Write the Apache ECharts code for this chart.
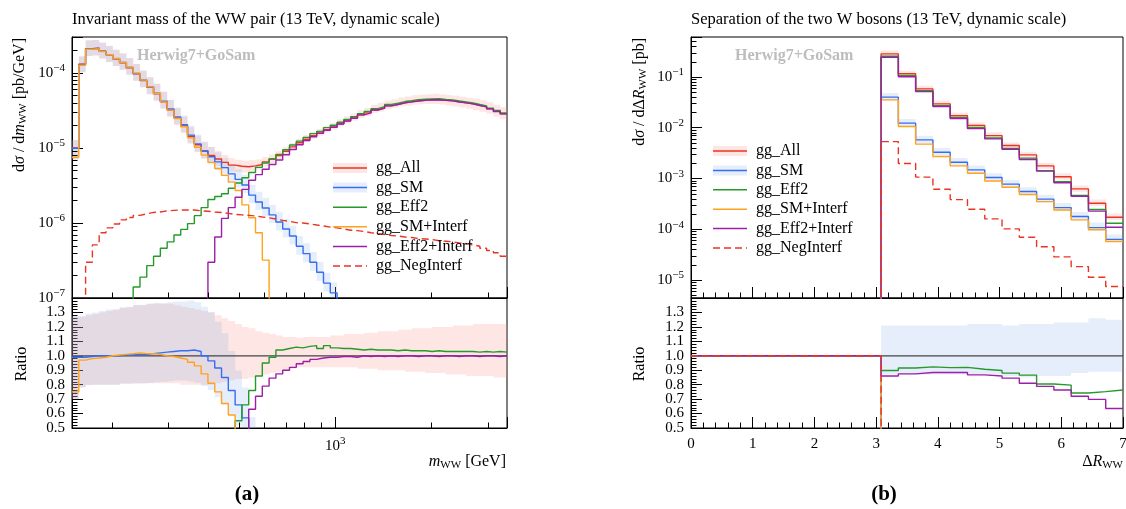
<!DOCTYPE html>
<html>
<head>
<meta charset="utf-8">
<script src="https://cdn.jsdelivr.net/npm/echarts/dist/echarts.min.js"></script>
<style>
  html, body { margin: 0; padding: 0; background: #fff; }
  #chart { width: 1126px; height: 509px; }
</style>
</head>
<body>
<div id="chart"></div>
<script>
// ---------------- m_WW histograms (log-uniform bins) ----------------
const massRange = [150, 3450];   // GeV
const massBinCount = 64;

const allL = [
  1.0e-5, 1.3e-4, 2.1e-4, 2.12e-4, 1.94e-4, 1.74e-4, 1.54e-4, 1.36e-4, 1.17e-4, 9.7e-5,
  7.9e-5, 6.4e-5, 5.25e-5, 4.1e-5, 3.2e-5, 2.5e-5, 1.96e-5, 1.42e-5, 1.1e-5, 9.1e-6,
  7.9e-6, 7.1e-6, 6.4e-6, 5.9e-6, 5.7e-6, 5.6e-6, 5.75e-6, 6.0e-6, 6.5e-6, 7.1e-6,
  7.9e-6, 9.0e-6, 1.03e-5, 1.17e-5, 1.3e-5, 1.45e-5, 1.58e-5, 1.74e-5, 1.9e-5, 2.09e-5,
  2.29e-5, 2.5e-5, 2.75e-5, 2.93e-5, 3.2e-5, 3.4e-5, 3.63e-5, 3.8e-5, 3.98e-5, 4.1e-5,
  4.23e-5, 4.3e-5, 4.37e-5, 4.37e-5, 4.3e-5, 4.23e-5, 4.1e-5, 3.98e-5, 3.86e-5, 3.69e-5,
  3.52e-5, 3.31e-5, 3.07e-5, 2.84e-5
];
const smL = [
  9.9e-6, 1.29e-4, 2.09e-4, 2.12e-4, 1.94e-4, 1.74e-4, 1.54e-4, 1.37e-4, 1.18e-4, 9.8e-5,
  8.0e-5, 6.5e-5, 5.35e-5, 4.2e-5, 3.3e-5, 2.59e-5, 2.03e-5, 1.48e-5, 1.13e-5, 9.1e-6,
  7.6e-6, 6.5e-6, 5.45e-6, 4.5e-6, 3.8e-6, 3.2e-6, 2.35e-6, 1.9e-6, 1.58e-6, 1.28e-6,
  1.03e-6, 8.3e-7, 6.7e-7, 4.9e-7, 3.9e-7, 3.0e-7, 2.2e-7, 1.58e-7, 1.17e-7, 6e-8,
  0, 0, 0, 0, 0, 0, 0, 0, 0, 0,
  0, 0, 0, 0, 0, 0, 0, 0, 0, 0,
  0, 0, 0, 0
];
const eff2L = [
  0, 0, 0, 0, 0, 0, 0, 0, 0, 1.4e-7,
  1.9e-7, 2.7e-7, 3.6e-7, 4.6e-7, 5.6e-7, 6.9e-7, 8.2e-7, 9.8e-7, 1.25e-6, 1.6e-6,
  2.05e-6, 2.25e-6, 2.45e-6, 2.9e-6, 3.4e-6, 4.0e-6, 4.7e-6, 5.5e-6, 6.3e-6, 7.1e-6,
  8.2e-6, 9.45e-6, 1.09e-5, 1.23e-5, 1.38e-5, 1.55e-5, 1.66e-5, 1.86e-5, 2.0e-5, 2.19e-5,
  2.4e-5, 2.61e-5, 2.86e-5, 3.06e-5, 3.33e-5, 3.54e-5, 3.78e-5, 3.93e-5, 4.14e-5, 4.24e-5,
  4.38e-5, 4.45e-5, 4.5e-5, 4.52e-5, 4.43e-5, 4.36e-5, 4.22e-5, 4.1e-5, 3.98e-5, 3.78e-5,
  3.63e-5, 3.39e-5, 3.16e-5, 2.91e-5
];
const smIntL = [
  7.5e-6, 1.26e-4, 2.06e-4, 2.09e-4, 1.92e-4, 1.74e-4, 1.55e-4, 1.37e-4, 1.19e-4, 9.9e-5,
  8.0e-5, 6.5e-5, 5.3e-5, 4.1e-5, 3.18e-5, 2.46e-5, 1.91e-5, 1.36e-5, 1.02e-5, 8.0e-6,
  6.4e-6, 5.3e-6, 4.3e-6, 3.5e-6, 2.7e-6, 1.74e-6, 1.17e-6, 7.4e-7, 3.2e-7, 9e-8,
  0, 0, 0, 0, 0, 0, 0, 0, 0, 0,
  0, 0, 0, 0, 0, 0, 0, 0, 0, 0,
  0, 0, 0, 0, 0, 0, 0, 0, 0, 0,
  0, 0, 0, 0
];
const eff2IntL = [
  0, 0, 0, 0, 0, 0, 0, 0, 0, 0,
  0, 0, 0, 0, 0, 0, 0, 0, 0, 5e-8,
  3.0e-7, 6.5e-7, 1.15e-6, 1.6e-6, 2.2e-6, 2.8e-6, 3.7e-6, 4.4e-6, 5.2e-6, 6.0e-6,
  6.9e-6, 8.1e-6, 9.5e-6, 1.1e-5, 1.25e-5, 1.41e-5, 1.56e-5, 1.72e-5, 1.88e-5, 2.08e-5,
  2.28e-5, 2.48e-5, 2.75e-5, 2.92e-5, 3.2e-5, 3.38e-5, 3.63e-5, 3.78e-5, 3.98e-5, 4.1e-5,
  4.21e-5, 4.3e-5, 4.37e-5, 4.35e-5, 4.3e-5, 4.23e-5, 4.08e-5, 3.98e-5, 3.86e-5, 3.67e-5,
  3.52e-5, 3.31e-5, 3.05e-5, 2.84e-5
];
const negL = [
  0, 5e-8, 3.0e-7, 5.1e-7, 7.4e-7, 8.6e-7, 9.7e-7, 1.1e-6, 1.18e-6, 1.26e-6,
  1.32e-6, 1.38e-6, 1.4e-6, 1.45e-6, 1.47e-6, 1.49e-6, 1.49e-6, 1.49e-6, 1.45e-6, 1.43e-6,
  1.4e-6, 1.38e-6, 1.34e-6, 1.3e-6, 1.28e-6, 1.26e-6, 1.24e-6, 1.2e-6, 1.17e-6, 1.13e-6,
  1.08e-6, 1.05e-6, 1.01e-6, 1.0e-6, 9.7e-7, 9.4e-7, 9.1e-7, 8.8e-7, 8.6e-7, 8.3e-7,
  8.0e-7, 7.9e-7, 7.7e-7, 7.4e-7, 7.2e-7, 7.0e-7, 6.8e-7, 6.7e-7, 6.5e-7, 6.4e-7,
  6.2e-7, 6.1e-7, 6.0e-7, 5.8e-7, 5.7e-7, 5.6e-7, 5.4e-7, 5.3e-7, 5.1e-7, 4.9e-7,
  4.6e-7, 4.3e-7, 4.0e-7, 3.6e-7
];

// ratios to gg_All
const smRatioL = [
  0.99, 0.99, 0.995, 1.0, 1.0, 1.0, 1.0, 1.005, 1.005, 1.01,
  1.01, 1.015, 1.02, 1.025, 1.03, 1.035, 1.035, 1.04, 1.03, 1.0,
  0.965, 0.915, 0.85, 0.76, 0.66, 0.57, 0.42, 0.32, 0.24, 0.18,
  0.13, 0.09, 0.065, 0.042, 0.03, 0.021, 0.014, 0.009, 0.006, 0.003,
  0, 0, 0, 0, 0, 0, 0, 0, 0, 0,
  0, 0, 0, 0, 0, 0, 0, 0, 0, 0,
  0, 0, 0, 0
];
const eff2RatioL = [
  0, 0, 0, 0, 0, 0, 0, 0, 0, 0.0014,
  0.0024, 0.0042, 0.0069, 0.011, 0.0175, 0.028, 0.042, 0.069, 0.11, 0.18,
  0.26, 0.32, 0.38, 0.46, 0.55, 0.66, 0.76, 0.86, 0.95, 0.99,
  1.04, 1.05, 1.06, 1.055, 1.065, 1.07, 1.05, 1.07, 1.055, 1.05,
  1.05, 1.045, 1.04, 1.045, 1.04, 1.04, 1.04, 1.035, 1.04, 1.035,
  1.035, 1.035, 1.03, 1.035, 1.03, 1.03, 1.03, 1.03, 1.03, 1.025,
  1.03, 1.025, 1.03, 1.025
];
const smIntRatioL = [
  0.75, 0.97, 0.98, 0.985, 0.99, 1.0, 1.005, 1.01, 1.015, 1.02,
  1.015, 1.015, 1.01, 1.0, 0.995, 0.985, 0.975, 0.955, 0.93, 0.875,
  0.81, 0.75, 0.67, 0.59, 0.47, 0.31, 0.2, 0.12, 0.05, 0.013,
  0, 0, 0, 0, 0, 0, 0, 0, 0, 0,
  0, 0, 0, 0, 0, 0, 0, 0, 0, 0,
  0, 0, 0, 0, 0, 0, 0, 0, 0, 0,
  0, 0, 0, 0
];
const eff2IntRatioL = [
  0, 0, 0, 0, 0, 0, 0, 0, 0, 0,
  0, 0, 0, 0, 0, 0, 0, 0, 0, 0.005,
  0.04, 0.09, 0.18, 0.27, 0.37, 0.47, 0.63, 0.72, 0.79, 0.845,
  0.875, 0.90, 0.92, 0.945, 0.96, 0.975, 0.985, 0.99, 0.99, 0.995,
  0.995, 0.99, 1.0, 0.995, 1.0, 0.995, 1.0, 0.995, 1.0, 1.0,
  0.995, 1.0, 1.0, 0.995, 1.0, 1.0, 0.995, 1.0, 1.0, 0.995,
  1.0, 1.0, 0.995, 1.0
];

// relative uncertainty bands (gg_All, gg_SM)
const allBandLoL = [
  0.70, 0.78, 0.80, 0.80, 0.80, 0.80, 0.80, 0.81, 0.81, 0.81,
  0.81, 0.81, 0.81, 0.81, 0.81, 0.81, 0.80, 0.80, 0.80, 0.80,
  0.80, 0.81, 0.82, 0.83, 0.84, 0.84, 0.85, 0.86, 0.87, 0.88,
  0.89, 0.90, 0.91, 0.92, 0.92, 0.92, 0.92, 0.92, 0.92, 0.92,
  0.92, 0.92, 0.91, 0.91, 0.91, 0.90, 0.90, 0.90, 0.90, 0.89,
  0.89, 0.89, 0.88, 0.88, 0.88, 0.87, 0.87, 0.87, 0.86, 0.86,
  0.86, 0.86, 0.85, 0.85
];
const allBandHiL = [
  1.27, 1.27, 1.28, 1.29, 1.30, 1.31, 1.32, 1.33, 1.34, 1.35,
  1.35, 1.36, 1.36, 1.36, 1.36, 1.35, 1.34, 1.33, 1.32, 1.31,
  1.30, 1.28, 1.26, 1.24, 1.22, 1.20, 1.19, 1.17, 1.16, 1.15,
  1.14, 1.13, 1.13, 1.125, 1.13, 1.13, 1.13, 1.13, 1.14, 1.14,
  1.15, 1.15, 1.15, 1.16, 1.16, 1.17, 1.17, 1.17, 1.18, 1.18,
  1.19, 1.19, 1.19, 1.20, 1.20, 1.20, 1.21, 1.21, 1.21, 1.22,
  1.22, 1.22, 1.22, 1.22
];
const smBandLoL = [
  0.71, 0.79, 0.80, 0.80, 0.80, 0.80, 0.80, 0.80, 0.80, 0.80,
  0.80, 0.80, 0.80, 0.80, 0.80, 0.80, 0.80, 0.79, 0.79, 0.79,
  0.79, 0.78, 0.78, 0.78, 0.78, 0.78, 0.78, 0.78, 0.78, 0.78,
  0.77, 0.77, 0.77, 0.77, 0.77, 0.77, 0.77, 0.77, 0.77, 0.77,
  0.77, 0.77, 0.77, 0.77, 0.77, 0.77, 0.77, 0.77, 0.77, 0.77,
  0.77, 0.77, 0.77, 0.77, 0.77, 0.77, 0.77, 0.77, 0.77, 0.77,
  0.77, 0.77, 0.77, 0.77
];
const smBandHiL = [
  1.29, 1.29, 1.30, 1.30, 1.31, 1.32, 1.32, 1.33, 1.33, 1.34,
  1.34, 1.34, 1.34, 1.33, 1.33, 1.33, 1.33, 1.33, 1.33, 1.34,
  1.35, 1.35, 1.36, 1.36, 1.36, 1.37, 1.37, 1.37, 1.37, 1.37,
  1.37, 1.37, 1.37, 1.37, 1.37, 1.37, 1.37, 1.37, 1.37, 1.37,
  1.37, 1.37, 1.37, 1.37, 1.37, 1.37, 1.37, 1.37, 1.37, 1.37,
  1.37, 1.37, 1.37, 1.37, 1.37, 1.37, 1.37, 1.37, 1.37, 1.37,
  1.37, 1.37, 1.37, 1.37
];

// ---------------- Delta R_WW histograms ----------------
const drEdges = [0, 0.28, 0.56, 0.84, 1.12, 1.4, 1.68, 1.96, 2.24, 2.52, 2.8, 3.08, 3.36,
  3.64, 3.92, 4.2, 4.48, 4.76, 5.04, 5.32, 5.6, 5.88, 6.16, 6.44, 6.72, 7.0];

const allR = [0, 0, 0, 0, 0, 0, 0, 0, 0, 0, 0,
  0.284, 0.115, 0.058, 0.0294, 0.0171, 0.011, 0.00697, 0.00443, 0.0029, 0.00176, 0.00108, 6.2e-4, 3.24e-4, 1.72e-4];
const smR = [0, 0, 0, 0, 0, 0, 0, 0, 0, 0, 0,
  0.0398, 0.01225, 0.00574, 0.00328, 0.00208, 0.00147, 0.00104, 7.7e-4, 5.5e-4, 3.9e-4, 2.66e-4, 1.77e-4, 1.07e-4, 6.3e-5];
const eff2R = [0, 0, 0, 0, 0, 0, 0, 0, 0, 0, 0,
  0.255, 0.105, 0.0535, 0.027, 0.0157, 0.00998, 0.00626, 0.0039, 0.00251, 0.00142, 8.6e-4, 4.6e-4, 2.44e-4, 1.31e-4];
const smIntR = [0, 0, 0, 0, 0, 0, 0, 0, 0, 0, 0,
  0.0352, 0.0105, 0.00472, 0.00269, 0.00176, 0.00126, 8.9e-4, 6.7e-4, 4.8e-4, 3.49e-4, 2.39e-4, 1.52e-4, 9.7e-5, 5.7e-5];
const eff2IntR = [0, 0, 0, 0, 0, 0, 0, 0, 0, 0, 0,
  0.244, 0.1006, 0.0513, 0.026, 0.0151, 0.00955, 0.006, 0.00374, 0.00235, 0.00139, 8.2e-4, 4.46e-4, 2.26e-4, 1.09e-4];
const negR = [0, 0, 0, 0, 0, 0, 0, 0, 0, 0, 0,
  5.3e-3, 1.96e-3, 1.06e-3, 6.1e-4, 3.82e-4, 2.47e-4, 1.59e-4, 1.01e-4, 6.9e-5, 4.5e-5, 2.84e-5, 1.83e-5, 1.13e-5, 7.4e-6];

const smRatioR = [1, 1, 1, 1, 1, 1, 1, 1, 1, 1, 1,
  0.14, 0.107, 0.099, 0.112, 0.122, 0.134, 0.149, 0.174, 0.19, 0.22, 0.246, 0.285, 0.33, 0.37];
const eff2RatioR = [1, 1, 1, 1, 1, 1, 1, 1, 1, 1, 1,
  0.898, 0.915, 0.923, 0.918, 0.92, 0.907, 0.898, 0.88, 0.866, 0.805, 0.797, 0.742, 0.752, 0.763];
const smIntRatioR = [1, 1, 1, 1, 1, 1, 1, 1, 1, 1, 1,
  0.124, 0.091, 0.081, 0.091, 0.103, 0.115, 0.128, 0.151, 0.166, 0.198, 0.221, 0.245, 0.30, 0.33];
const eff2IntRatioR = [1, 1, 1, 1, 1, 1, 1, 1, 1, 1, 1,
  0.86, 0.875, 0.884, 0.884, 0.884, 0.868, 0.86, 0.845, 0.81, 0.788, 0.763, 0.72, 0.698, 0.635];
const negRatioR = [1, 1, 1, 1, 1, 1, 1, 1, 1, 1, 1,
  0.019, 0.017, 0.018, 0.021, 0.022, 0.022, 0.023, 0.023, 0.024, 0.026, 0.026, 0.03, 0.035, 0.043];

const allBandLoR = [0, 0, 0, 0, 0, 0, 0, 0, 0, 0, 0,
  0.88, 0.88, 0.88, 0.88, 0.88, 0.88, 0.88, 0.88, 0.88, 0.88, 0.88, 0.88, 0.88, 0.88];
const allBandHiR = [0, 0, 0, 0, 0, 0, 0, 0, 0, 0, 0,
  1.16, 1.15, 1.15, 1.16, 1.15, 1.15, 1.16, 1.15, 1.16, 1.16, 1.17, 1.17, 1.18, 1.18];
const smBandLoR = [0, 0, 0, 0, 0, 0, 0, 0, 0, 0, 0,
  0.87, 0.87, 0.87, 0.87, 0.87, 0.87, 0.87, 0.86, 0.85, 0.86, 0.86, 0.88, 0.89, 0.89];
const smBandHiR = [0, 0, 0, 0, 0, 0, 0, 0, 0, 0, 0,
  1.21, 1.21, 1.21, 1.21, 1.21, 1.22, 1.22, 1.21, 1.22, 1.22, 1.23, 1.23, 1.26, 1.25];

// axis ranges and ratio tick labels
const massYRange = [1e-7, 3e-4];
const drYRange = [4.4e-6, 0.61];
const ratioRange = [0.5, 1.4];
const ratioTickLabels = ['0.5', '0.6', '0.7', '0.8', '0.9', '1.0', '1.1', '1.2', '1.3'];
const drRange = [0, 7];
const legendNames = ['gg_All', 'gg_SM', 'gg_Eff2', 'gg_SM+Interf', 'gg_Eff2+Interf', 'gg_NegInterf'];

// ---------------- styling ----------------
const FONT = '"Liberation Serif", "DejaVu Serif", serif';
const C = {
  all: '#ea3323', sm: '#356ef0', eff2: '#259a2a', smInt: '#ffa21c', eff2Int: '#9c1fa8', neg: '#ea3323'
};
const PINK = 'rgba(248, 140, 128, 0.22)';
const BLUE = 'rgba(130, 170, 235, 0.2)';
const LW = 1.4;

// log-uniform bin edges for the mass histogram
const massEdges = [];
for (let i = 0; i <= massBinCount; i++) {
  massEdges.push(massRange[0] * Math.pow(massRange[1] / massRange[0], i / massBinCount));
}

const mul = (a, b) => a.map((v, i) => v * b[i]);

function stepPoints(edges, vals, floor) {
  const pts = [];
  for (let i = 0; i < vals.length; i++) {
    const v = vals[i] > 0 ? vals[i] : floor;
    pts.push([edges[i], v], [edges[i + 1], v]);
  }
  return pts;
}

function histSeries(name, xi, yi, edges, vals, color, z, dashed, floor) {
  return {
    name, type: 'line', xAxisIndex: xi, yAxisIndex: yi, z, silent: true,
    symbol: 'none', showSymbol: false, clip: true, animation: false,
    data: stepPoints(edges, vals, floor),
    lineStyle: { color, width: LW, type: dashed ? [7, 4] : 'solid' }
  };
}

// filled step band drawn through the axes' own coordinate mapping
function bandSeries(xi, yi, edges, lo, hi, fill, z, yRef) {
  return {
    type: 'custom', xAxisIndex: xi, yAxisIndex: yi, silent: true, z, animation: false,
    data: [[edges[0], yRef]],
    renderItem(params, api) {
      const cs = params.coordSys;
      const cx = x => Math.min(cs.x + cs.width, Math.max(cs.x, x));
      const cy = y => Math.min(cs.y + cs.height, Math.max(cs.y, y));
      const pt = (x, y) => { const p = api.coord([x, y]); return [cx(p[0]), cy(p[1])]; };
      const children = [];
      let i = 0;
      while (i < lo.length) {
        if (!(lo[i] > 0 && hi[i] > 0)) { i++; continue; }
        let j = i;
        while (j < lo.length && lo[j] > 0 && hi[j] > 0) j++;
        const pts = [];
        for (let k = i; k < j; k++) pts.push(pt(edges[k], hi[k]), pt(edges[k + 1], hi[k]));
        for (let k = j - 1; k >= i; k--) pts.push(pt(edges[k + 1], lo[k]), pt(edges[k], lo[k]));
        children.push({ type: 'polygon', shape: { points: pts }, style: { fill } });
        i = j;
      }
      return { type: 'group', children };
    }
  };
}

// minor ticks of logarithmic axes (2..9 x 10^k)
function logMinor(lo, hi) {
  const out = [];
  for (let k = Math.floor(Math.log10(lo)); k <= Math.ceil(Math.log10(hi)); k++) {
    for (let j = 2; j <= 9; j++) {
      const v = j * Math.pow(10, k);
      if (v > lo * 1.0001 && v < hi * 0.9999) out.push(v);
    }
  }
  return out;
}
function tickSeries(xi, yi, dim, values, len, ref) {
  return {
    type: 'custom', xAxisIndex: xi, yAxisIndex: yi, silent: true, z: 30, animation: false,
    data: [dim === 'x' ? [values[0], ref] : [ref, values[0]]],
    renderItem(params, api) {
      const cs = params.coordSys;
      const children = values.map(v => {
        const p = api.coord(dim === 'x' ? [v, ref] : [ref, v]);
        if (dim === 'x') {
          const x = Math.round(p[0]) + 0.5;
          return { type: 'line', shape: { x1: x, y1: cs.y + cs.height, x2: x, y2: cs.y + cs.height - len },
            style: { stroke: '#000', lineWidth: 1 } };
        }
        const y = Math.round(p[1]) + 0.5;
        return { type: 'line', shape: { x1: cs.x, y1: y, x2: cs.x + len, y2: y },
          style: { stroke: '#000', lineWidth: 1 } };
      });
      return { type: 'group', children };
    }
  };
}

// ratio-axis tick labels placed at their values on the y axis
function ratioLabelSeries(xi, yi, xRef) {
  return {
    type: 'custom', xAxisIndex: xi, yAxisIndex: yi, silent: true, z: 30, animation: false,
    data: [[xRef, 1]],
    renderItem(params, api) {
      const cs = params.coordSys;
      const children = ratioTickLabels.map(t => {
        const p = api.coord([xRef, parseFloat(t)]);
        return { type: 'text', x: cs.x - 7, y: p[1],
          style: { text: t, fontFamily: FONT, fontSize: 15, fill: '#000', align: 'right', verticalAlign: 'middle' } };
      });
      return { type: 'group', children };
    }
  };
}

function refLine(xi, yi, range) {
  return {
    type: 'line', xAxisIndex: xi, yAxisIndex: yi, z: 6, silent: true, symbol: 'none',
    animation: false, data: [[range[0], 1], [range[1], 1]],
    lineStyle: { color: '#444', width: 1.3 }
  };
}

function powLabel(v) {
  const e = Math.log10(v), r = Math.round(e);
  if (Math.abs(e - r) > 1e-6) return '';
  return '{b|10}{s|' + (r < 0 ? '\u2212' + (-r) : r) + '}';
}
const powRich = {
  b: { fontSize: 15, fontFamily: FONT, color: '#000' },
  s: { fontSize: 11, fontFamily: FONT, color: '#000', padding: [0, 0, 9, 0] }
};

const axisLineStyle = { show: true, lineStyle: { color: '#000', width: 1 } };
const majorTick = { show: true, inside: true, length: 11, lineStyle: { color: '#000', width: 1 } };

function logXAxis(gi, showLabel) {
  return {
    gridIndex: gi, type: 'log', logBase: 10, min: massRange[0], max: massRange[1],
    axisLine: axisLineStyle, axisTick: majorTick, splitLine: { show: false },
    axisLabel: { show: showLabel, formatter: powLabel, rich: powRich, margin: 8, hideOverlap: false }
  };
}
function linXAxis(gi, showLabel) {
  return {
    gridIndex: gi, type: 'value', min: drRange[0], max: drRange[1], interval: 1,
    axisLine: axisLineStyle, axisTick: majorTick, splitLine: { show: false },
    minorTick: { show: true, splitNumber: 5, length: 5.5, lineStyle: { color: '#000', width: 1 } },
    minorSplitLine: { show: false },
    axisLabel: { show: showLabel, fontFamily: FONT, fontSize: 15, color: '#000', margin: 9,
      showMinLabel: true, showMaxLabel: true, hideOverlap: false,
      formatter: v => String(Math.round(v)) }
  };
}
function logYAxis(gi, range) {
  return {
    gridIndex: gi, type: 'log', logBase: 10, min: range[0], max: range[1],
    axisLine: axisLineStyle, axisTick: majorTick, splitLine: { show: false },
    axisLabel: { formatter: powLabel, rich: powRich, margin: 7, showMinLabel: true, hideOverlap: false }
  };
}
function ratioYAxis(gi) {
  return {
    gridIndex: gi, type: 'value', min: ratioRange[0], max: ratioRange[1], interval: 0.1,
    axisLine: axisLineStyle, axisTick: majorTick, splitLine: { show: false },
    minorTick: { show: true, splitNumber: 5, length: 5.5, lineStyle: { color: '#000', width: 1 } },
    minorSplitLine: { show: false },
    axisLabel: { show: false }
  };
}

const gridBase = { show: true, borderColor: '#000', borderWidth: 1, backgroundColor: 'transparent',
  containLabel: false, outerBoundsMode: 'none' };

// ---------------- series ----------------
const series = [];
// left, main
series.push(bandSeries(0, 0, massEdges, mul(allL, allBandLoL), mul(allL, allBandHiL), PINK, 1, 1e-5));
series.push(bandSeries(0, 0, massEdges, mul(smL, smBandLoL), mul(smL, smBandHiL), BLUE, 1, 1e-5));
const FL = 1e-10;
series.push(histSeries(legendNames[0], 0, 0, massEdges, allL, C.all, 10, false, FL));
series.push(histSeries(legendNames[1], 0, 0, massEdges, smL, C.sm, 11, false, FL));
series.push(histSeries(legendNames[2], 0, 0, massEdges, eff2L, C.eff2, 12, false, FL));
series.push(histSeries(legendNames[3], 0, 0, massEdges, smIntL, C.smInt, 13, false, FL));
series.push(histSeries(legendNames[4], 0, 0, massEdges, eff2IntL, C.eff2Int, 14, false, FL));
series.push(histSeries(legendNames[5], 0, 0, massEdges, negL, C.neg, 15, true, FL));
// left, ratio
series.push(bandSeries(1, 1, massEdges, allBandLoL, allBandHiL, PINK, 1, 1));
series.push(bandSeries(1, 1, massEdges, mul(smRatioL, smBandLoL), mul(smRatioL, smBandHiL), BLUE, 1, 1));
series.push(refLine(1, 1, massRange));
series.push(histSeries(legendNames[1], 1, 1, massEdges, smRatioL, C.sm, 11, false, 0));
series.push(histSeries(legendNames[2], 1, 1, massEdges, eff2RatioL, C.eff2, 12, false, 0));
series.push(histSeries(legendNames[3], 1, 1, massEdges, smIntRatioL, C.smInt, 13, false, 0));
series.push(histSeries(legendNames[4], 1, 1, massEdges, eff2IntRatioL, C.eff2Int, 14, false, 0));
// right, main
series.push(bandSeries(2, 2, drEdges, mul(allR, allBandLoR), mul(allR, allBandHiR), PINK, 1, 1e-3));
series.push(bandSeries(2, 2, drEdges, mul(smR, smBandLoR), mul(smR, smBandHiR), BLUE, 1, 1e-3));
series.push(histSeries(legendNames[0], 2, 2, drEdges, allR, C.all, 10, false, FL));
series.push(histSeries(legendNames[1], 2, 2, drEdges, smR, C.sm, 11, false, FL));
series.push(histSeries(legendNames[2], 2, 2, drEdges, eff2R, C.eff2, 12, false, FL));
series.push(histSeries(legendNames[3], 2, 2, drEdges, smIntR, C.smInt, 13, false, FL));
series.push(histSeries(legendNames[4], 2, 2, drEdges, eff2IntR, C.eff2Int, 14, false, FL));
series.push(histSeries(legendNames[5], 2, 2, drEdges, negR, C.neg, 15, true, FL));
// right, ratio
series.push(bandSeries(3, 3, drEdges, smBandLoR, smBandHiR, BLUE, 1, 1));
series.push(refLine(3, 3, drRange));
series.push(histSeries(legendNames[1], 3, 3, drEdges, smRatioR, C.sm, 11, false, 0));
series.push(histSeries(legendNames[2], 3, 3, drEdges, eff2RatioR, C.eff2, 12, false, 0));
series.push(histSeries(legendNames[3], 3, 3, drEdges, smIntRatioR, C.smInt, 13, false, 0));
series.push(histSeries(legendNames[4], 3, 3, drEdges, eff2IntRatioR, C.eff2Int, 14, false, 0));
series.push(histSeries(legendNames[5], 3, 3, drEdges, negRatioR, C.neg, 15, true, 0));
// minor ticks on log axes, ratio tick labels
const massMinor = logMinor(massRange[0], massRange[1]);
series.push(tickSeries(0, 0, 'x', massMinor, 5.5, 1e-5));
series.push(tickSeries(1, 1, 'x', massMinor, 5.5, 1));
series.push(tickSeries(0, 0, 'y', logMinor(massYRange[0], massYRange[1]), 5.5, 1000));
series.push(tickSeries(2, 2, 'y', logMinor(drYRange[0], drYRange[1]), 5.5, 1));
series.push(ratioLabelSeries(1, 1, 1000));
series.push(ratioLabelSeries(3, 3, 1));

// ---------------- text and legends ----------------
const txt = (x, y, text, extra) => Object.assign({ type: 'text', x, y, z: 100, silent: true,
  style: Object.assign({ text, fontFamily: FONT, fontSize: 16, fill: '#000', align: 'left', verticalAlign: 'middle' },
    extra && extra.style) }, extra && extra.props);

const richAxis = {
  n: { fontFamily: FONT, fontSize: 16, color: '#000' },
  i: { fontFamily: FONT, fontSize: 16, fontStyle: 'italic', color: '#000' },
  sub: { fontFamily: FONT, fontSize: 11, color: '#000', padding: [7, 0, 0, 0] }
};

function legend(x0, y0, dy) {
  const items = [
    { c: C.all, band: PINK }, { c: C.sm, band: BLUE }, { c: C.eff2 },
    { c: C.smInt }, { c: C.eff2Int }, { c: C.neg, dash: true }
  ];
  const els = [];
  items.forEach((it, k) => {
    const y = y0 + k * dy;
    if (it.band) els.push({ type: 'rect', z: 99, silent: true, shape: { x: x0, y: y - 5, width: 34, height: 10 },
      style: { fill: it.band } });
    els.push({ type: 'line', z: 100, silent: true, shape: { x1: x0, y1: y, x2: x0 + 34, y2: y },
      style: { stroke: it.c, lineWidth: 1.5, lineDash: it.dash ? [7, 4] : null } });
    els.push(txt(x0 + 43, y, legendNames[k]));
  });
  return els;
}

const graphics = [
  txt(72, 20, 'Invariant mass of the WW pair (13 TeV, dynamic scale)', { style: { fontSize: 16.5 } }),
  txt(691, 20, 'Separation of the two W bosons (13 TeV, dynamic scale)', { style: { fontSize: 16.5 } }),
  txt(137, 56, 'Herwig7+GoSam', { style: { fontWeight: 'bold', fill: '#bdbdbd', fontSize: 16 } }),
  txt(735, 56, 'Herwig7+GoSam', { style: { fontWeight: 'bold', fill: '#bdbdbd', fontSize: 16 } }),
  txt(20, 38, '{n|d}{i|\u03c3}{n| / d}{i|m}{sub|WW}{n| [pb/GeV]}',
    { style: { rich: richAxis, align: 'right' }, props: { rotation: Math.PI / 2 } }),
  txt(640, 38, '{n|d}{i|\u03c3}{n| / d\u0394}{i|R}{sub|WW}{n| [pb]}',
    { style: { rich: richAxis, align: 'right' }, props: { rotation: Math.PI / 2 } }),
  txt(22, 364, 'Ratio', { style: { align: 'center' }, props: { rotation: Math.PI / 2 } }),
  txt(640, 364, 'Ratio', { style: { align: 'center' }, props: { rotation: Math.PI / 2 } }),
  txt(506, 462, '{i|m}{sub|WW}{n| [GeV]}', { style: { rich: richAxis, align: 'right' } }),
  txt(1123, 462, '{n|\u0394}{i|R}{sub|WW}', { style: { rich: richAxis, align: 'right' } }),
  txt(247, 495, '(a)', { style: { fontWeight: 'bold', fontSize: 21, align: 'center' } }),
  txt(884, 495, '(b)', { style: { fontWeight: 'bold', fontSize: 21, align: 'center' } })
].concat(legend(333, 168, 19.6), legend(713, 151, 19.4));

const chart = echarts.init(document.getElementById('chart'), null, { renderer: 'canvas' });
chart.setOption({
  animation: false,
  backgroundColor: '#fff',
  textStyle: { fontFamily: FONT },
  grid: [
    Object.assign({ left: 72, top: 37, width: 435, height: 261 }, gridBase),
    Object.assign({ left: 72, top: 298, width: 435, height: 130 }, gridBase),
    Object.assign({ left: 691, top: 37, width: 432, height: 261 }, gridBase),
    Object.assign({ left: 691, top: 298, width: 432, height: 130 }, gridBase)
  ],
  xAxis: [logXAxis(0, false), logXAxis(1, true), linXAxis(2, false), linXAxis(3, true)],
  yAxis: [logYAxis(0, massYRange), ratioYAxis(1), logYAxis(2, drYRange), ratioYAxis(3)],
  series,
  graphic: { elements: graphics }
});
</script>
</body>
</html>
